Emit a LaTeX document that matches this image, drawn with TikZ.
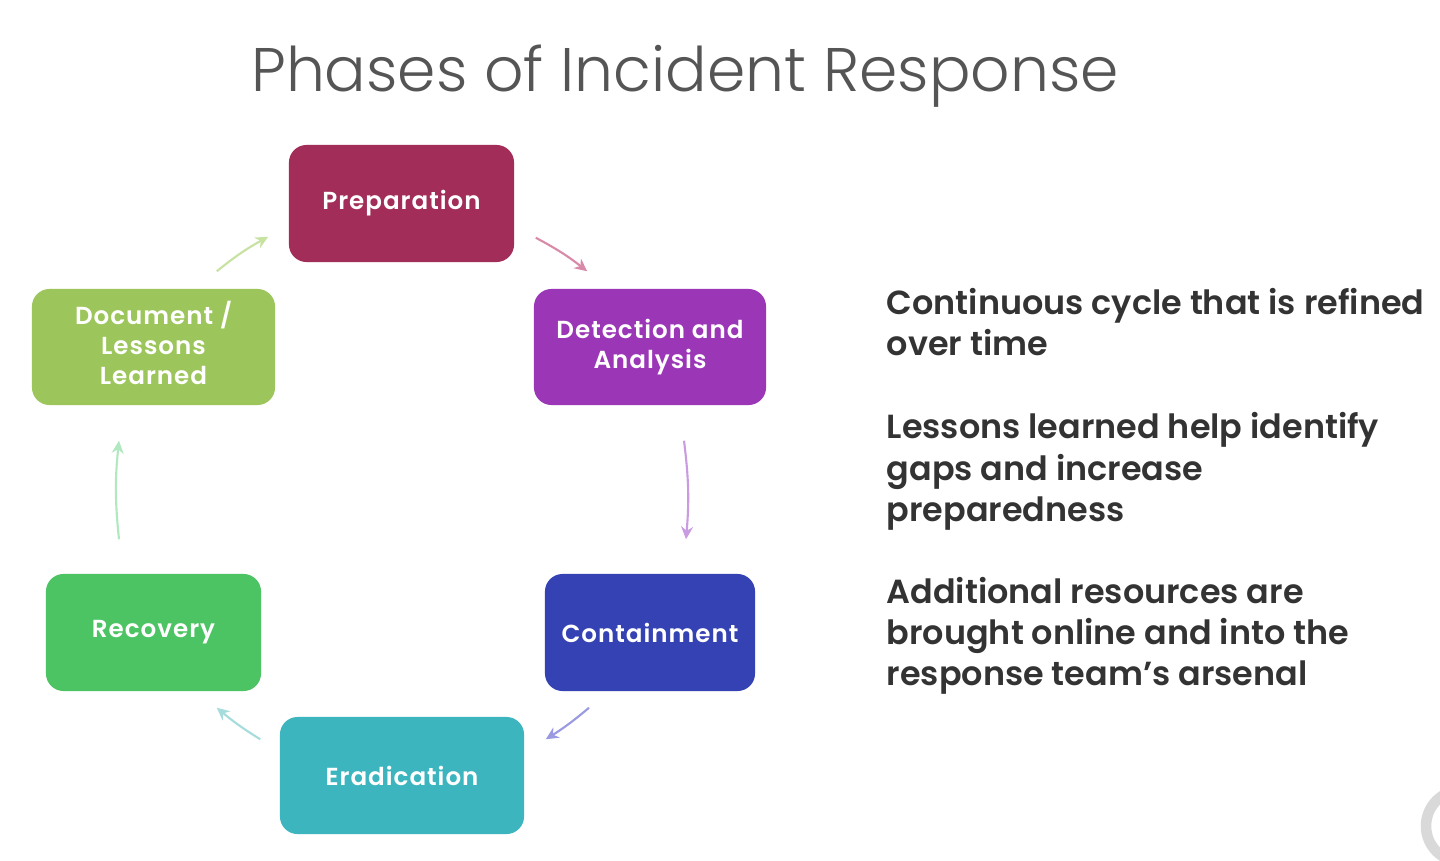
\documentclass[tikz,border=0pt]{standalone}
\usepackage{fontspec}
\setmainfont{Poppins}
\newfontfamily\titlefont{Poppins Light}
\newfontfamily\semifont{Poppins SemiBold}
\newfontfamily\boxfont{Poppins SemiBold}[LetterSpace=4]
\usetikzlibrary{arrows.meta,calc}
\definecolor{cprep}{HTML}{A22D58}
\definecolor{cdet}{HTML}{9B36B7}
\definecolor{ccont}{HTML}{3542B3}
\definecolor{cerad}{HTML}{3DB5BE}
\definecolor{crec}{HTML}{4CC463}
\definecolor{cdoc}{HTML}{9CC65B}
\definecolor{ctitle}{HTML}{555555}
\definecolor{ctext}{HTML}{333333}
\definecolor{adoc}{HTML}{C8E2A2}
\definecolor{aprep}{HTML}{D98AA8}
\definecolor{adet}{HTML}{C99BE0}
\definecolor{acont}{HTML}{9A9AE2}
\definecolor{aerad}{HTML}{A6DCDC}
\definecolor{arec}{HTML}{B0E8C0}
\tikzset{
  phase/.style={rounded corners=5pt, inner sep=0pt, align=center, text=white,
    font=\boxfont\fontsize{7}{8.5}\selectfont},
  flow/.style={line width=0.6pt, -{Stealth[length=3.6pt,width=3.4pt]}},
  side/.style={anchor=base west, inner sep=0pt, text=ctext,
    font=\semifont\fontsize{9.5}{11.7}\selectfont}
}
\begin{document}
\begin{tikzpicture}[x=0.01cm,y=-0.01cm]
\useasboundingbox (0,0) rectangle (1440,861);
\fill[white] (0,0) rectangle (1440,861);
\node[anchor=base, inner sep=0pt, text=ctitle, font=\titlefont\fontsize{17.5}{21}\selectfont] (title) at (685,92) {Phases of Incident Response};

\node[phase, fill=cprep, minimum width=2.25cm, minimum height=1.17cm] (prep) at (401.5,203.5) {Preparation};
\node[phase, fill=cdet, minimum width=2.32cm, minimum height=1.16cm] (det) at (650,347) {Detection and\\Analysis};
\node[phase, fill=ccont, minimum width=2.10cm, minimum height=1.17cm] (cont) at (650,632.5) {Containment};
\node[phase, fill=cerad, minimum width=2.44cm, minimum height=1.17cm] (erad) at (402,775.5) {Eradication};
\node[phase, fill=crec, minimum width=2.15cm, minimum height=1.17cm] (rec) at (153.5,632.5) {Recovery};
\node[phase, fill=cdoc, minimum width=2.43cm, minimum height=1.16cm] (doc) at (153.5,347) {};
\node[phase, anchor=center] (doctext) at (153.5,343) {Document /\\Lessons\\Learned};

\draw[flow, adoc] ($(doc.north east)+(-59,-17)$) to[bend left=5] ($(prep.south west)+(-20,-26)$);
\draw[flow, aprep] ($(prep.south east)+(21,-25)$) to[bend left=5] ($(det.north west)+(54,-17)$);
\draw[flow, adet] ($(det.south)+(34,35)$) to[bend left=6] ($(cont.north)+(36,-34)$);
\draw[flow, acont] ($(cont.south)+(-61,16)$) to[bend left=4] ($(erad.north east)+(21,23)$);
\draw[flow, aerad] ($(erad.north west)+(-19,23)$) to[bend left=4] ($(rec.south east)+(-45,16)$);
\draw[flow, arec] ($(rec.north)+(-34.5,-34)$) to[bend left=6] ($(doc.south)+(-34.5,35)$);

\node[side] (t1a) at (886,315) {Continuous cycle that is refined};
\node[side] (t1b) at (886,356) {over time};
\node[side] (t2a) at (886,439) {Lessons learned help identify};
\node[side] (t2b) at (886,480) {gaps and increase};
\node[side] (t2c) at (886,521) {preparedness};
\node[side] (t3a) at (886,603) {Additional resources are};
\node[side] (t3b) at (886,644) {brought online and into the};
\node[side] (t3c) at (886,685) {response team’s arsenal};

\draw[gray!30, line width=3pt] (1462,826) circle (36);
\end{tikzpicture}
\end{document}
